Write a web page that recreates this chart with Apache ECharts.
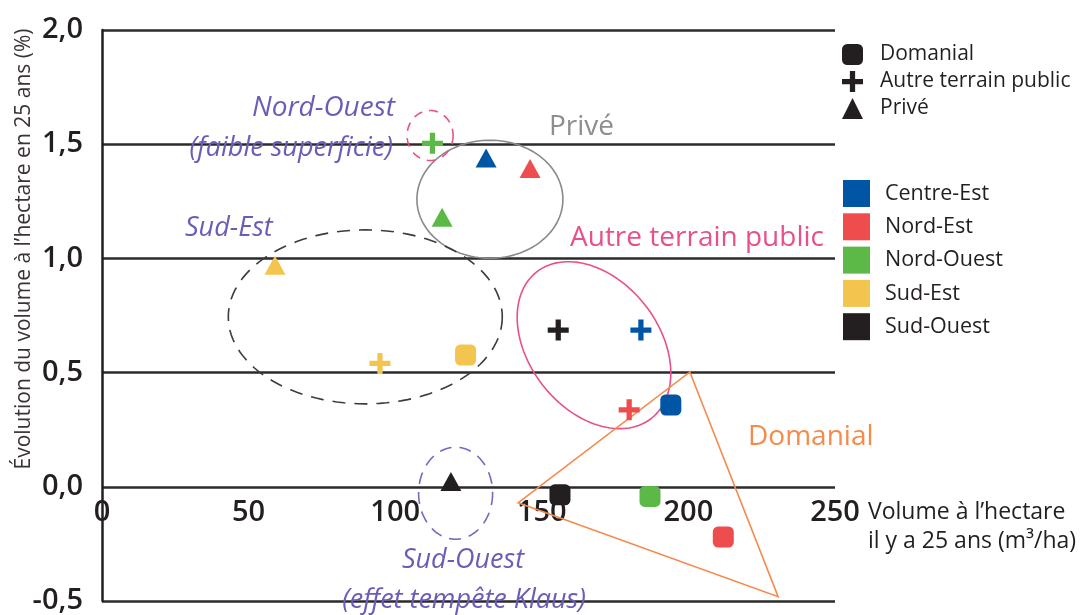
<!DOCTYPE html>
<html><head><meta charset="utf-8">
<script src="https://cdn.jsdelivr.net/npm/echarts@6/dist/echarts.min.js"></script>
<style>html,body{margin:0;padding:0;background:#fff}#chart{width:1081px;height:615px}</style>
</head><body><div id="chart"></div>
<script>
// ---- data ----
const regions = ['Centre-Est', 'Nord-Est', 'Nord-Ouest', 'Sud-Est', 'Sud-Ouest'];
const typeNames = ['Domanial', 'Autre terrain public', 'Privé'];
// values per region (same order as regions)
const domanialX = [194.0, 211.9, 186.9, 124.0, 156.2];
const domanialY = [0.358, -0.220, -0.042, 0.577, -0.035];
const autreX = [183.8, 179.8, 112.7, 94.8, 155.6];
const autreY = [0.686, 0.337, 1.504, 0.540, 0.686];
const priveX = [131.0, 146.0, 116.0, 59.0, 119.0];
const priveY = [1.440, 1.394, 1.180, 0.970, 0.023];
const xTicks = [0, 50, 100, 150, 200, 250];
const yTicks = [-0.5, 0, 0.5, 1.0, 1.5, 2.0];

// ---- styles ----
const regionColors = ['#0055a4', '#ef4d4d', '#5cb847', '#f4c54e', '#231f20'];
const ink = '#231f20';
const FONT = '"Open Sans", "Noto Sans", sans-serif';
const crossPath = 'path://M7.5,0H12.5V7.5H20V12.5H12.5V20H7.5V12.5H0V7.5H7.5Z';

// annotation shapes anchored in data units (radii in px)
const annotations = [
  {kind: 'ellipse', c: [132.3, 1.259], r: [73, 59], rot: 0, stroke: '#8a8a8a', dash: null},
  {kind: 'ellipse', c: [89.8, 0.744], r: [137, 87], rot: 0, stroke: '#3c3c3c', dash: [13, 9]},
  {kind: 'ellipse', c: [167.8, 0.620], r: [93, 65], rot: -52, stroke: '#e8508c', dash: null},
  {kind: 'ellipse', c: [111.9, 1.538], r: [23, 25], rot: 0, stroke: '#e8508c', dash: [9, 7]},
  {kind: 'ellipse', c: [120.6, -0.028], r: [37, 46], rot: 0, stroke: '#7668c0', dash: [12, 8]},
  {kind: 'polygon', pts: [[141.9, -0.07], [200.5, 0.503], [230.6, -0.481]], stroke: '#f58a4b', dash: null}
];

function ellipsePoints(p, rx, ry, rotDeg) {
  const pts = [];
  const t = -rotDeg * Math.PI / 180;
  const n = 120;
  for (let i = 0; i < n; i++) {
    const a = i / n * Math.PI * 2;
    const ex = rx * Math.cos(a), ey = ry * Math.sin(a);
    pts.push([p[0] + ex * Math.cos(t) - ey * Math.sin(t), p[1] + ex * Math.sin(t) + ey * Math.cos(t)]);
  }
  return pts;
}

function typeSeries(name, xs, ys, symbol, size) {
  return {
    type: 'scatter', name: name, symbol: symbol, symbolSize: size, z: 5,
    itemStyle: {color: ink, opacity: 1},
    emphasis: {disabled: true},
    data: xs.map((x, i) => ({value: [x, ys[i]], itemStyle: {color: regionColors[i], opacity: 1}}))
  };
}

const series = [
  typeSeries(typeNames[0], domanialX, domanialY, 'roundRect', 21),
  typeSeries(typeNames[1], autreX, autreY, crossPath, 21),
  typeSeries(typeNames[2], priveX, priveY, 'triangle', [21, 19]),
  {
    type: 'custom', name: 'annotations', z: 2, silent: true,
    data: annotations.map(a => a.kind === 'ellipse' ? a.c : a.pts[0]),
    renderItem: function (params, api) {
      const a = annotations[params.dataIndex];
      let pts;
      if (a.kind === 'ellipse') {
        pts = ellipsePoints(api.coord(a.c), a.r[0], a.r[1], a.rot);
      } else {
        pts = a.pts.map(q => api.coord(q));
      }
      return {type: 'polygon', shape: {points: pts},
        style: {fill: null, stroke: a.stroke, lineWidth: 1.6, lineDash: a.dash}};
    }
  }
].concat(regions.map((r, i) => ({type: 'scatter', name: r, data: [], itemStyle: {color: regionColors[i], opacity: 1}})));

function txt(text, x, y, opts) {
  return {
    type: 'text', x: x, y: y, z: 20, silent: true, rotation: opts.rotation || 0,
    style: {
      text: text, fill: opts.color, fontSize: opts.size, fontFamily: FONT,
      fontStyle: opts.italic ? 'italic' : 'normal', fontWeight: opts.weight || 'normal',
      align: opts.align || 'left', verticalAlign: 'middle'
    }
  };
}
const purple = '#6a5db8';

const option = {
  animation: false,
  backgroundColor: '#ffffff',
  grid: {left: 102, right: 246, top: 30, bottom: 14, containLabel: false, outerBoundsMode: 'none'},
  xAxis: {
    type: 'value', min: xTicks[0], max: xTicks[xTicks.length - 1], interval: xTicks[1] - xTicks[0],
    position: 'bottom',
    axisLine: {show: false, onZero: false},
    axisTick: {show: false}, splitLine: {show: false},
    // tick labels sit just under the 0,0 line, as in the original figure
    axisLabel: {fontSize: 29, fontWeight: 600, color: ink, fontFamily: FONT, margin: -103,
      showMinLabel: true, showMaxLabel: true, hideOverlap: false}
  },
  yAxis: {
    type: 'value', min: yTicks[0], max: yTicks[yTicks.length - 1], interval: yTicks[1] - yTicks[0],
    axisLine: {show: true, onZero: false, lineStyle: {color: ink, width: 2.5}},
    axisTick: {show: false},
    splitLine: {show: true, lineStyle: {color: '#2b2b2b', width: 2.5}},
    axisLabel: {fontSize: 29, fontWeight: 600, color: ink, fontFamily: FONT, margin: 19,
      formatter: v => v.toFixed(1).replace('.', ',')}
  },
  legend: [
    {data: typeNames, orient: 'vertical', left: 842, top: 44, padding: 0, itemWidth: 21, itemHeight: 21, itemGap: 6,
      selectedMode: false, textStyle: {fontSize: 21, color: ink, fontFamily: FONT, padding: [0, 0, 0, 12]}},
    {data: regions.map(n => ({name: n, icon: 'rect'})), orient: 'vertical', left: 843, top: 180, padding: 0,
      itemWidth: 27, itemHeight: 27, itemGap: 6.3, selectedMode: false,
      textStyle: {fontSize: 21.5, color: ink, fontFamily: FONT, padding: [0, 0, 0, 10]}}
  ],
  graphic: [
    txt('Évolution du volume à l’hectare en 25 ans (%)', 24, 249, {size: 21, color: '#3a3333', align: 'center', rotation: Math.PI / 2}),
    txt('Volume à l’hectare', 868, 512, {size: 23, color: ink}),
    txt('il y a 25 ans (m³/ha)', 868, 541, {size: 23, color: ink}),
    txt('Nord-Ouest', 395, 108, {size: 28, color: purple, italic: true, align: 'right'}),
    txt('(faible superficie)', 393, 148, {size: 27, color: purple, italic: true, align: 'right'}),
    txt('Sud-Est', 185, 228, {size: 27, color: purple, italic: true}),
    txt('Sud-Ouest', 463, 560, {size: 27, color: purple, italic: true, align: 'center'}),
    txt('(effet tempête Klaus)', 464, 600, {size: 27, color: purple, italic: true, align: 'center'}),
    txt('Privé', 549, 127, {size: 28, color: '#8e8e8e'}),
    txt('Autre terrain public', 570, 238, {size: 28, color: '#e8508c'}),
    txt('Domanial', 748, 437, {size: 28, color: '#f58a4b'})
  ],
  series: series
};

const chart = echarts.init(document.getElementById('chart'), null, {renderer: 'canvas', devicePixelRatio: 1});
chart.setOption(option);
</script>
</body></html>
